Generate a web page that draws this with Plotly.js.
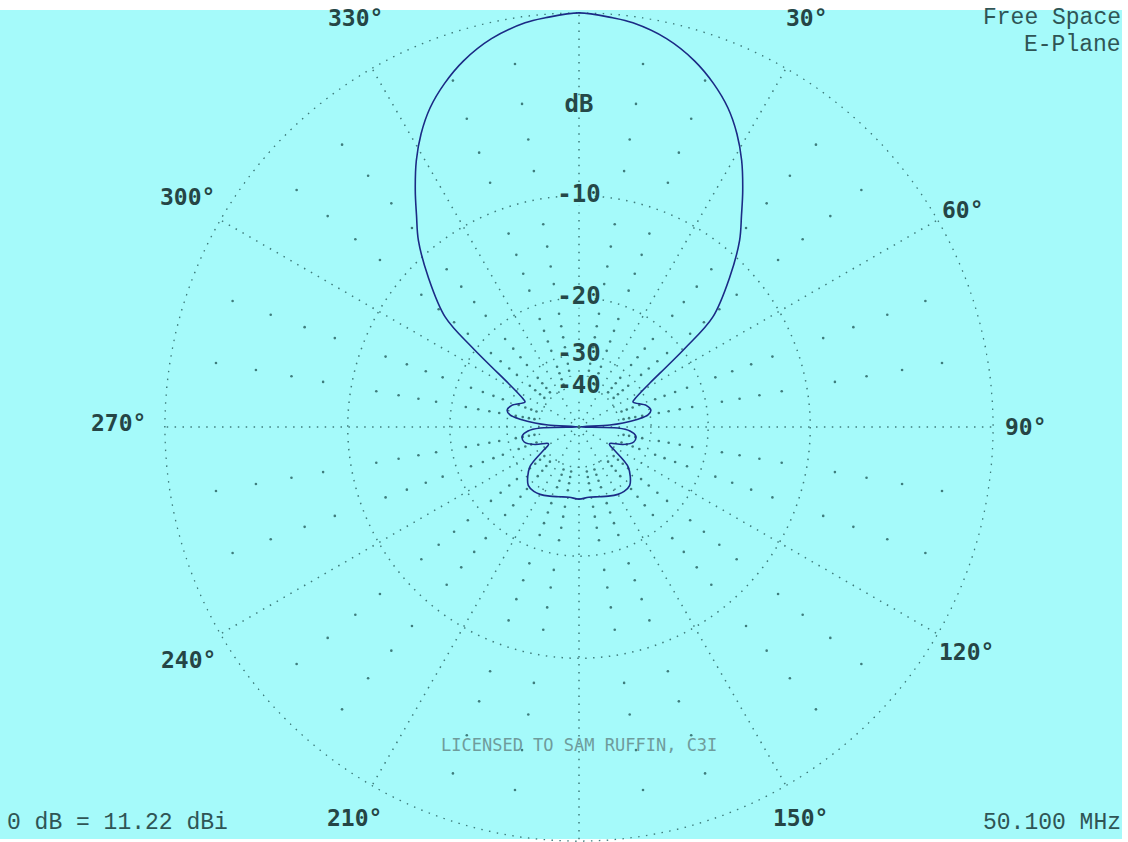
<!DOCTYPE html>
<html><head><meta charset="utf-8">
<script src="https://cdn.plot.ly/plotly-3.0.1.min.js"></script>
<style>
html,body{margin:0;padding:0;background:#ffffff;}
#bg{position:absolute;left:0;top:10px;width:1122px;height:829px;background:#a5fafa;}
#plot{position:absolute;left:0;top:0;width:1128px;height:842px;}
</style></head><body>
<div id="bg"></div><div id="plot"></div>
<script>
// ---- data (right half of the symmetric E-plane pattern, bearing in deg, gain in dB) ----
const patternBearing = [0,4.7,7.6,12.7,17.5,21.4,25.0,28.3,31.4,34.7,37.5,40.7,45.2,50.6,53.3,55.5,58.2,63.4,65.2,72.4,76.7,80.1,82.6,84.8,86.3,90,91.5,94.5,99,105.3,111.7,118,120,123,126,129,134,139,145,150,157,164,172,180];
const patternDb = [0,-0.15,-0.27,-0.68,-1.30,-1.99,-2.78,-3.74,-4.85,-6.26,-7.54,-8.92,-11.47,-14.98,-19.4,-23.4,-27.5,-32.5,-33.3,-30.3,-29.6,-30.5,-33.6,-38.4,-44.5,-100,-40.6,-35.9,-33.9,-34.1,-37.2,-42.4,-42.3,-39.5,-35.5,-32.3,-30.2,-28.8,-28.5,-28.7,-29.3,-29.9,-30.3,-30.0];

const ringDb = [0,-10,-20,-30,-40];
const ringLabelDb = [-10,-20,-30,-40];
const ringLabelText = ['-10','-20','-30','-40'];
const spokeAngles = [0,30,60,90,120,150,180,210,240,270,300,330];
const angleLabelText = ['30°','60°','90°','120°','150°','210°','240°','270°','300°','330°'];
const dotDb = [-2,-4,-6,-8,-12,-14,-16,-18,-22,-24,-26,-28,-32,-34,-36,-38];
const dotStepDeg = 10;

// ---- styles / placement ----
const CX = 579, CY = 427, R_PX = 415;
const angleLabelPosBearing = [29.1,60.5,90,120.2,150.5,209.8,239.2,270.5,300.5,331.4];
const angleLabelPosRadiusPx = [468,441,447,448,449,451,455,461,454,466];
const dbUnitLabelR = 0.776;
const BG = '#a5fafa';
const GRID = '#3f7c7c';
const DOTDASH = '1.5px,6.4px';
const MONO = '"DejaVu Sans Mono", monospace';
const MONO2 = '"Liberation Mono", monospace';

// ARRL log scale: radius = 0.89^(-dB/2)
function arrl(db){ return Math.pow(0.89, -db/2); }

// full pattern by mirroring
const n = patternBearing.length;
const theta = patternBearing.slice();
const dbs = patternDb.slice();
for (let i = n-2; i >= 0; i--) { theta.push(360 - patternBearing[i]); dbs.push(patternDb[i]); }

// background dots at 10 deg steps on 2 dB levels
const dotT = [], dotR = [];
for (let a = 0; a < 360; a += dotStepDeg) {
  if (a % 30 === 0) continue;
  dotDb.forEach(d => { dotT.push(a); dotR.push(arrl(d)); });
}

const circleT = [];
for (let a = 0; a <= 360; a += 1) circleT.push(a);

const traces = [];
ringDb.forEach(d => traces.push({type:'scatterpolar', mode:'lines', theta:circleT, r:circleT.map(()=>arrl(d)),
  line:{color:GRID, width:1.5, dash:DOTDASH}, hoverinfo:'skip', showlegend:false, cliponaxis:false}));
traces.push(
  {type:'scatterpolar', mode:'markers', theta:dotT, r:dotR,
   marker:{size:2.6, color:GRID}, hoverinfo:'skip', showlegend:false},
  {type:'scatterpolar', mode:'markers+text',
   theta:[0].concat(ringLabelDb.map(()=>0)),
   r:[dbUnitLabelR].concat(ringLabelDb.map(arrl)),
   text:['dB'].concat(ringLabelText),
   textposition:'middle center',
   marker:{symbol:'square', size:20, color:BG},
   textfont:{family:MONO, size:24, color:'#254848', weight:'bold'},
   hoverinfo:'skip', showlegend:false},
  {type:'scatterpolar', mode:'lines', theta:theta, r:dbs.map(arrl),
   line:{color:'#1b2b85', width:1.6, shape:'spline', smoothing:1},
   hoverinfo:'skip', showlegend:false}
);

const L = 30, T = 12, W = 1128, H = 842;
const PW = W - L, PH = H - T;
const px = x => (x - L)/PW;
const py = y => (H - y)/PH;
const cornerFont = {family:MONO2, size:23, color:'#2f5555'};

const annotations = [
  {text:'Free Space', x:px(1123), y:py(18), xanchor:'right', yanchor:'middle', font:cornerFont},
  {text:'E-Plane', x:px(1123), y:py(45), xanchor:'right', yanchor:'middle', font:cornerFont},
  {text:'0 dB = 11.22 dBi', x:px(5), y:py(823), xanchor:'left', yanchor:'middle', font:cornerFont},
  {text:'50.100 MHz', x:px(1123), y:py(823), xanchor:'right', yanchor:'middle', font:cornerFont},
  {text:'LICENSED TO SAM RUFFIN, C3I', x:px(579), y:py(745), xanchor:'center', yanchor:'middle',
   font:{family:MONO, size:17, color:'#6f9c9c'}}
];
angleLabelText.forEach((txt, i) => {
  const rad = angleLabelPosBearing[i]*Math.PI/180, rp = angleLabelPosRadiusPx[i];
  annotations.push({text:txt, x:px(CX + rp*Math.sin(rad)), y:py(CY - rp*Math.cos(rad)),
    xanchor:'center', yanchor:'middle', font:{family:MONO, size:23, color:'#254545', weight:'bold'}});
});
annotations.forEach(a => { a.xref = 'paper'; a.yref = 'paper'; a.showarrow = false; });

const layout = {
  width:W, height:H,
  margin:{l:L, r:0, t:T, b:0, pad:0},
  paper_bgcolor:'rgba(0,0,0,0)',
  showlegend:false, hovermode:false,
  polar:{
    domain:{x:[0,1], y:[0,1]},
    bgcolor:'rgba(0,0,0,0)',
    radialaxis:{range:[0,1.002], showgrid:false, showticklabels:false, ticks:'', showline:false},
    angularaxis:{rotation:90, direction:'clockwise', tickvals:spokeAngles, showticklabels:false,
      ticks:'', showline:false, gridcolor:GRID, gridwidth:1.5, griddash:DOTDASH}
  },
  annotations:annotations
};

Plotly.newPlot('plot', traces, layout, {displayModeBar:false, staticPlot:true});
</script>
</body></html>
